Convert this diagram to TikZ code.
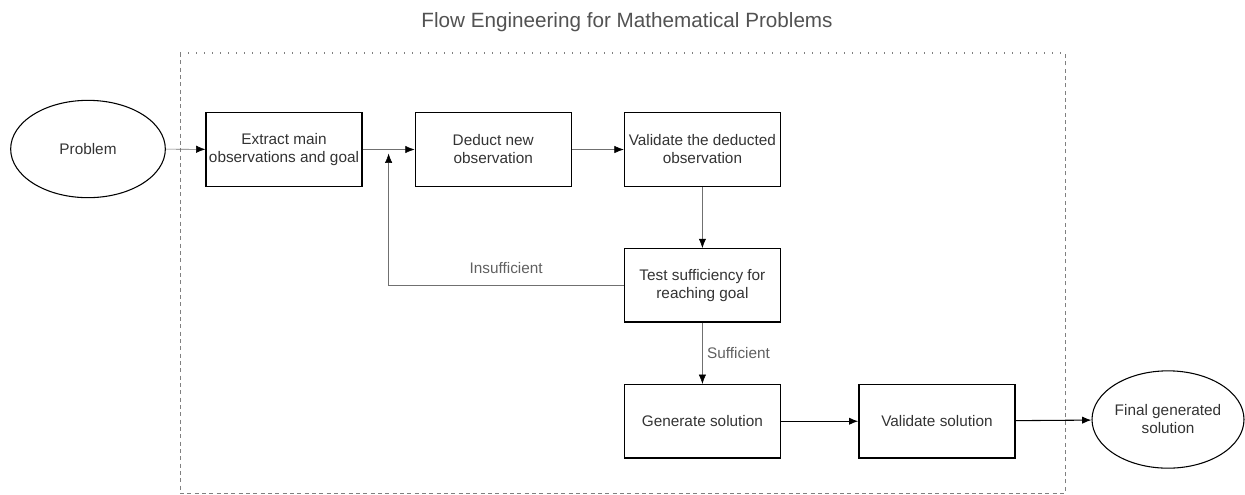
\documentclass[tikz,border=0pt]{standalone}
\usepackage{fontspec}
\setmainfont{Liberation Sans}
\usepackage{xcolor}
\usepackage{tikz}
\usetikzlibrary {positioning}
\usetikzlibrary{arrows.meta}
\usetikzlibrary{shapes.geometric}
\tikzset{edge/.style = {->,> = {Latex[length=7pt,width=5.5pt,color=black]}}}
\definecolor{inkgray}{HTML}{333333}
\definecolor{linegray}{HTML}{707070}
\definecolor{labelgray}{HTML}{606060}

\begin{document}
\begin{tikzpicture}[x=0.75pt,y=-0.75pt,auto,node distance=39pt,
    step node/.style={rectangle,draw,line width=0.9pt,minimum width=117pt,minimum height=55pt,align=center,inner sep=1pt,font=\fontsize{11.5}{13.5}\selectfont,text=inkgray},
    end node/.style={ellipse,draw,line width=0.8pt,inner sep=0pt,align=center,font=\fontsize{11.5}{13.5}\selectfont,text=inkgray},
    edge label/.style={font=\fontsize{11.5}{13.5}\selectfont,text=labelgray}]
            \useasboundingbox (0,0) rectangle (1245,494);
            \node[font=\fontsize{15.5}{18}\selectfont,text=inkgray!85] (title) at (627,22) {Flow Engineering for Mathematical Problems};
            % dotted frame
            \draw[gray,line width=0.8pt,dash pattern=on 1pt off 5pt] (180,53) -- (1065,53);
            \draw[gray,line width=0.7pt,dash pattern=on 3pt off 2.5pt] (180,53) -- (180,493) -- (1065,493) -- (1065,53);

            \node[end node,minimum width=116pt,minimum height=73pt] (problem) at (88,149) {Problem};
            \node[step node] (extract) at (284,149.5) {Extract main\\observations and goal};
            \node[step node] (deduct) [right=of extract] {Deduct new\\observation};
            \node[step node] (check) [right=of deduct] {Validate the deducted\\observation};
            \node[step node] (test) [below=46pt of check] {Test sufficiency for\\reaching goal};
            \node[step node] (generate) [below=46pt of test] {Generate solution};
            \node[step node] (verify) [right=58pt of generate] {Validate solution};
            \node[end node,minimum width=114pt,minimum height=73pt] (final) at (1168,419.5) {Final generated\\solution};

            \path (extract.east) -- (deduct.west) coordinate[pos=0.5] (merge);

            \path[edge] (problem) edge[linegray] (extract);
            \path[edge] (extract) edge[linegray] (deduct);
            \path[edge] (deduct) edge[linegray] (check);
            \path[edge] (check) edge[linegray] (test);
            \draw[edge,linegray] (test.west) -| node[above,pos=0.25,yshift=5pt,edge label] {Insufficient} ([yshift=-3pt]merge);
            \path[edge] (test) edge[linegray] node[right,edge label] {Sufficient} (generate);
            \path[edge] (generate) edge[line width=0.8pt] (verify);
            \path[edge] (verify) edge[line width=0.8pt] (final);

        \end{tikzpicture}
\end{document}
